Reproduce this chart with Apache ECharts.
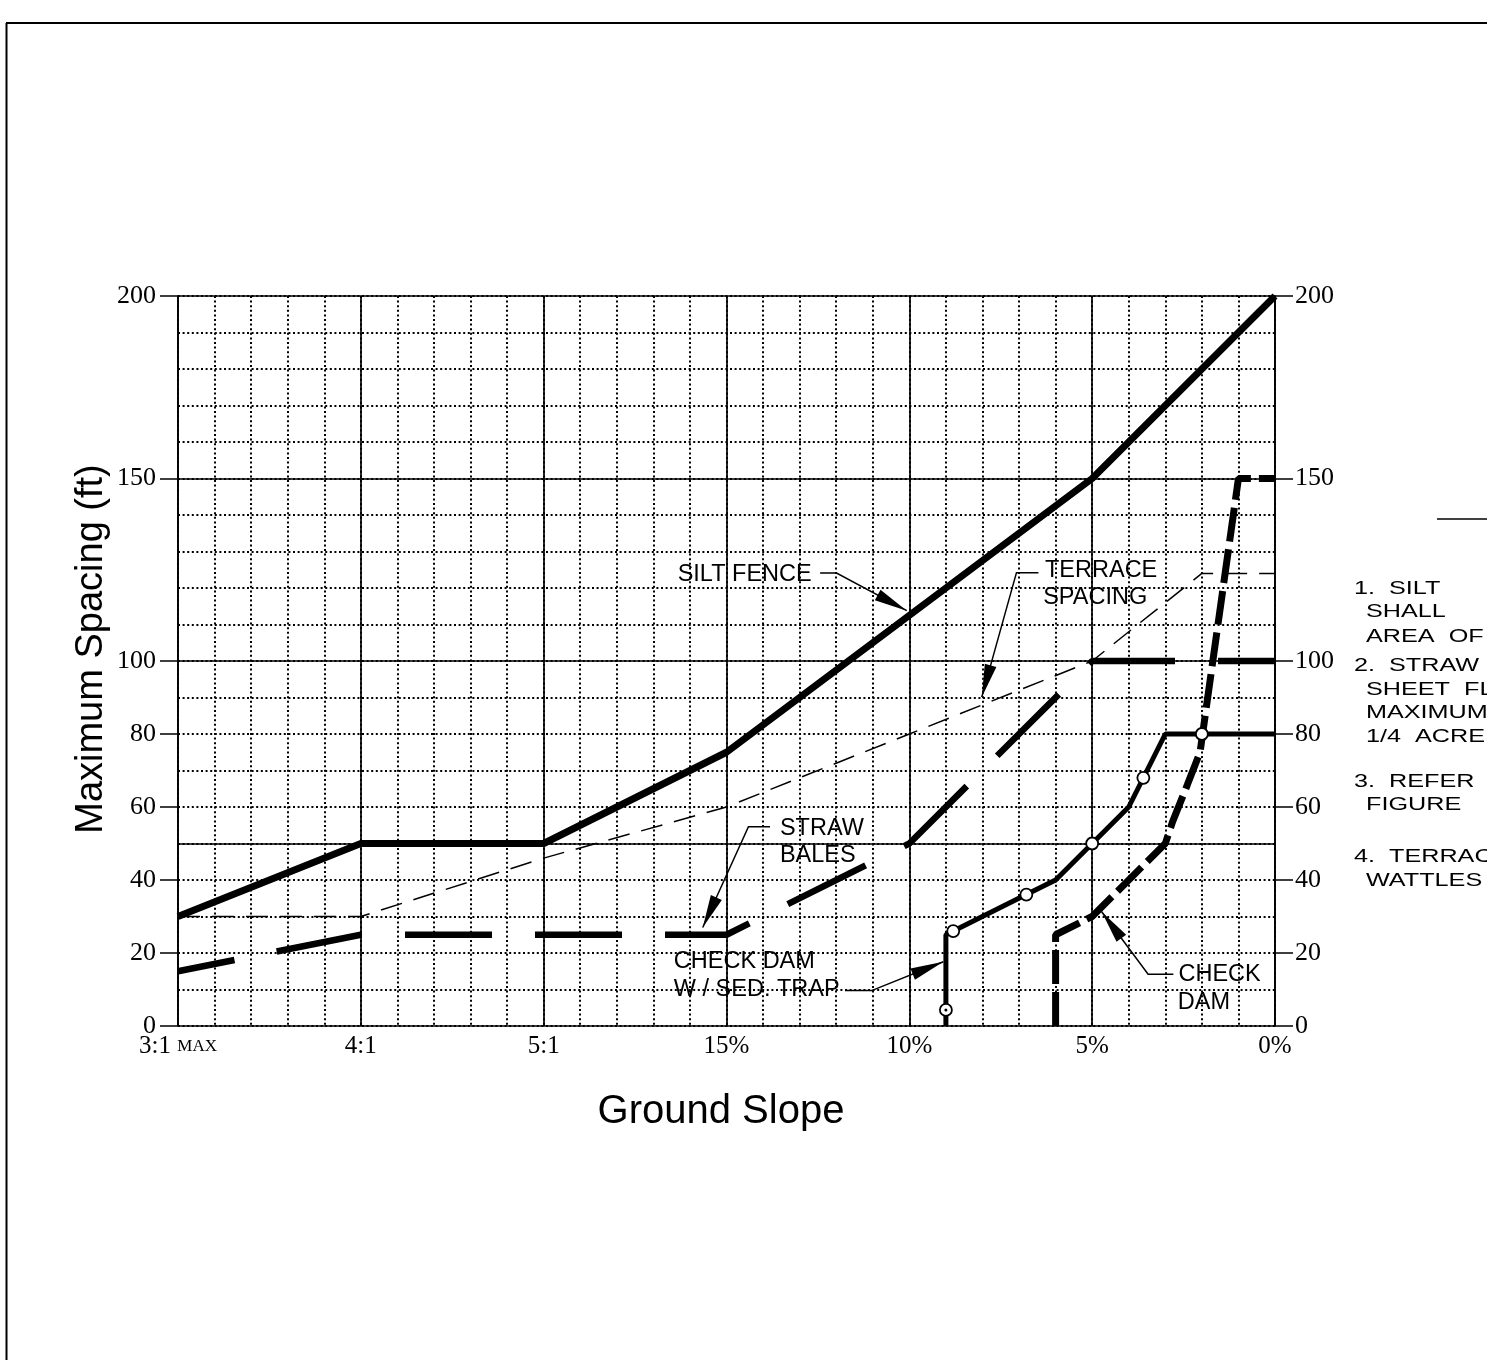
<!DOCTYPE html>
<html><head><meta charset="utf-8">
<script src="https://cdn.jsdelivr.net/npm/echarts@6/dist/echarts.min.js"></script>
<style>html,body{margin:0;padding:0;background:#fff}#c{width:1487px;height:1360px}</style>
</head><body><div id="c"></div>
<script>
// ---------- data ----------
const xTickLabels = ['3:1 {sc|MAX}', '4:1', '5:1', '15%', '10%', '5%', '0%'];
const yTickValues = [0, 20, 40, 60, 80, 100, 150, 200];
const majorX = [0, 5, 10, 15, 20, 25, 30];
const majorY = [0, 50, 100, 150, 200];
const siltFence = [[0,30],[5,50],[10,50],[15,75],[25,150],[30,200]];
const terraceSpacing = [[0,30],[5,30],[10,46],[15,60],[20,80],[25,100],[28,124],[30,124]];
const strawBales = [[0,15],[5,25],[15,25],[20,50],[25,100],[30,100]];
const checkDamTrap = [[21,0],[21,25],[23.2,36],[24,40],[25,50],[26,60],[27,80],[30,80]];
const checkDamTrapMarks = [[21.2,26],[23.2,36],[25,50],[26.4,68],[28,80]];
const checkDamTrapBase = [[21,4.4]];
const checkDam = [[24,0],[24,25],[25,30],[27,50],[27.2,56],[27.6,66],[27.95,75],[28.3,100],[29,150],[30,150]];

// annotation anchors (data coordinates)
const annotations = [
  {texts:[{s:'SILT FENCE', at:[17.33,123.6], align:'right'}], leader:[[17.56,124.1],[18.01,124.1],[19.93,113.8]]},
  {texts:[{s:'TERRACE', at:[23.71,124.9]},{s:'SPACING', at:[23.66,117.3]}], leader:[[23.53,124.2],[22.93,124.2],[21.98,90.1]]},
  {texts:[{s:'STRAW', at:[16.46,54.2]},{s:'BALES', at:[16.46,46.8]}], leader:[[16.19,54.6],[15.6,54.6],[14.35,27.0]]},
  {texts:[{s:'CHECK DAM', at:[13.56,17.6]},{s:'W / SED. TRAP', at:[13.56,9.9]}], leader:[[18.24,9.7],[18.97,9.7],[20.93,17.6]]},
  {texts:[{s:'CHECK', at:[27.36,14.2]},{s:'DAM', at:[27.34,6.4]}], leader:[[27.22,14.2],[26.53,14.2],[25.26,31.3]]}
];
const notes = [
  ['1.  SILT', 0, 589], ['SHALL', 1, 612], ['AREA  OF', 1, 637],
  ['2.  STRAW', 0, 666], ['SHEET  FLOW', 1, 690], ['MAXIMUM', 1, 713], ['1/4  ACRE', 1, 737],
  ['3.  REFER', 0, 782], ['FIGURE', 1, 805],
  ['4.  TERRACE', 0, 857], ['WATTLES', 1, 881]
];

// ---------- chart ----------
const chart = echarts.init(document.getElementById('c'), null, {renderer:'canvas'});
const gridRect = {left:178, right:212, top:296, bottom:334};
const serifLbl = {fontFamily:'"Liberation Serif", "Times New Roman", serif', fontSize:26, color:'#000'};
const dotted = {color:'#000', width:2, type:[2,2.6]};
const hideAll = {axisLine:{show:false}, axisTick:{show:false}, axisLabel:{show:false}};

const option = {
  animation:false,
  backgroundColor:'#fff',
  grid:[Object.assign({}, gridRect), Object.assign({}, gridRect)],
  xAxis:[
    {gridIndex:0, type:'value', min:0, max:30, interval:5, position:'bottom',
     axisLine:{show:false, onZero:false}, axisTick:{show:false}, splitLine:{show:false},
     axisLabel:Object.assign({}, serifLbl, {fontSize:25, margin:8, formatter:v => xTickLabels[Math.round(v/5)],
       rich:{sc:{fontFamily:'"Liberation Serif", serif', fontSize:17, color:'#000'}}})},
    Object.assign({gridIndex:1, type:'value', min:0, max:30, interval:1, splitLine:{show:true, lineStyle:dotted}}, hideAll)
  ],
  yAxis:[
    {gridIndex:0, type:'value', min:0, max:200, position:'left',
     axisLine:{show:true, onZero:false, lineStyle:{color:'#000', width:1.6}},
     axisTick:{show:true, customValues:yTickValues, length:18, lineStyle:{color:'#000', width:1.5}},
     axisLabel:Object.assign({customValues:yTickValues, margin:22}, serifLbl),
     splitLine:{show:false}},
    {gridIndex:0, type:'value', min:0, max:200, position:'right',
     axisLine:{show:true, onZero:false, lineStyle:{color:'#000', width:1.6}},
     axisTick:{show:true, customValues:yTickValues, length:18, lineStyle:{color:'#000', width:1.5}},
     axisLabel:Object.assign({customValues:yTickValues, margin:20}, serifLbl),
     splitLine:{show:false}},
    Object.assign({gridIndex:1, type:'value', min:0, max:200, interval:10, splitLine:{show:true, lineStyle:dotted}}, hideAll)
  ],
  series:[
    {name:'grid', type:'line', xAxisIndex:0, yAxisIndex:0, data:[[0,0]], showSymbol:false, symbol:'none',
     lineStyle:{width:0, opacity:0}, silent:true, z:2,
     markLine:{silent:true, symbol:'none', label:{show:false}, animation:false,
       lineStyle:{color:'#000', width:1.7, type:'solid'},
       emphasis:{disabled:true},
       data:[...majorX.map(v => ({xAxis:v})), ...majorY.map(v => ({yAxis:v}))]}},
    {name:'Terrace spacing', type:'line', data:terraceSpacing, symbol:'none', silent:true, z:3,
     lineStyle:{color:'#000', width:1.5, type:[22,12]}},
    {name:'Silt fence', type:'line', data:siltFence, symbol:'none', silent:true, z:4,
     lineStyle:{color:'#000', width:7}},
    {name:'Straw bales', type:'line', data:strawBales, symbol:'none', silent:true, z:4,
     lineStyle:{color:'#000', width:6.5, type:[87,43], dashOffset:29.4}},
    {name:'Check dam w/ sed. trap', type:'line', data:checkDamTrap, symbol:'none', silent:true, z:4,
     lineStyle:{color:'#000', width:5}},
    {name:'Check dam', type:'line', data:checkDam, symbol:'none', silent:true, z:5,
     lineStyle:{color:'#000', width:7, type:[34,8]}},
    {name:'marks', type:'scatter', data:checkDamTrapMarks.concat(checkDamTrapBase), symbol:'circle', symbolSize:12, silent:true, z:6,
     itemStyle:{color:'#fff', opacity:1, borderColor:'#000', borderWidth:1.8}},
    {name:'marksDot', type:'scatter', data:checkDamTrapBase, symbol:'circle', symbolSize:3, silent:true, z:7,
     itemStyle:{color:'#000', opacity:1}}
  ]
};
chart.setOption(option);

// ---------- annotations / decoration ----------
function px(p){ return chart.convertToPixel({gridIndex:0}, p); }
const sansFont = '"Liberation Sans", Arial, sans-serif';
const g = [];
annotations.forEach(a => {
  a.texts.forEach(t => {
    const p = px(t.at);
    g.push({type:'text', x:p[0], y:p[1], z:20, silent:true,
      style:{text:t.s, fontFamily:sansFont, fontSize:23.5, fill:'#000',
        align:t.align || 'left', verticalAlign:'middle', textAlign:t.align || 'left', textVerticalAlign:'middle'}});
  });
  const pts = a.leader.map(px);
  g.push({type:'polyline', z:20, silent:true, shape:{points:pts}, style:{stroke:'#000', lineWidth:1.5, fill:null}});
  const T = pts[pts.length-1], E = pts[pts.length-2];
  const dx = T[0]-E[0], dy = T[1]-E[1], L = Math.hypot(dx,dy);
  const ux = dx/L, uy = dy/L, len = 33, w = 6;
  const bx = T[0]-ux*len, by = T[1]-uy*len;
  g.push({type:'polygon', z:20, silent:true,
    shape:{points:[T, [bx - uy*w, by + ux*w], [bx + uy*w, by - ux*w]]}, style:{fill:'#000'}});
});
// axis titles
g.push({type:'text', x:92, y:649, rotation:Math.PI/2, z:20, silent:true,
  style:{text:'Maximum Spacing (ft)', fontFamily:sansFont, fontSize:38, fill:'#000',
    align:'center', verticalAlign:'middle', textAlign:'center', textVerticalAlign:'middle'}});
g.push({type:'text', x:721, y:1112, z:20, silent:true,
  style:{text:'Ground Slope', fontFamily:sansFont, fontSize:40, fill:'#000',
    align:'center', verticalAlign:'middle', textAlign:'center', textVerticalAlign:'middle'}});
// frame
g.push({type:'line', z:20, silent:true, shape:{x1:6, y1:23, x2:1487, y2:23}, style:{stroke:'#000', lineWidth:2}});
g.push({type:'line', z:20, silent:true, shape:{x1:6.5, y1:23, x2:6.5, y2:1360}, style:{stroke:'#000', lineWidth:2}});
// notes column
g.push({type:'line', z:20, silent:true, shape:{x1:1437, y1:519, x2:1487, y2:519}, style:{stroke:'#000', lineWidth:1.5}});
notes.forEach(n => {
  g.push({type:'text', x:n[1] ? 1366 : 1354, y:n[2], scaleX:1.4, z:20, silent:true,
    style:{text:n[0], fontFamily:sansFont, fontSize:18, fill:'#000',
      align:'left', verticalAlign:'middle', textAlign:'left', textVerticalAlign:'middle'}});
});
chart.setOption({graphic:{elements:g}});
</script>
</body></html>
